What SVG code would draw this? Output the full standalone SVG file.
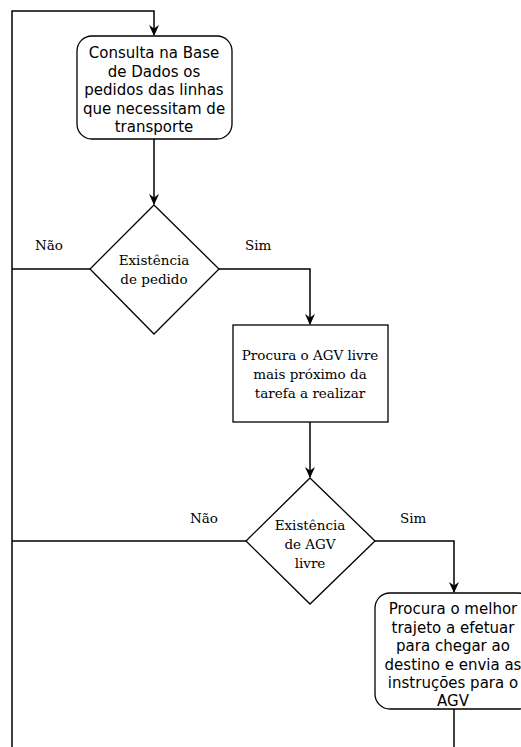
<svg xmlns="http://www.w3.org/2000/svg" width="521" height="747" viewBox="0 0 521 747">
<defs>
<marker id="arr" viewBox="0 0 10 10" refX="9" refY="5" markerWidth="11" markerHeight="10" orient="auto" markerUnits="userSpaceOnUse" preserveAspectRatio="none">
<path d="M0,0 L10,5 L0,10 L3,5 Z" fill="#000"/>
</marker>
<style>
.ln{fill:none;stroke:#000;stroke-width:1.5}
.shp{fill:#fff;stroke:#000;stroke-width:1.3}
.sans{font-family:"DejaVu Sans",Verdana,sans-serif;font-size:15px;fill:#000;text-anchor:middle}
.serif{font-family:Georgia,"DejaVu Serif","Liberation Serif",serif;font-size:13.5px;fill:#000;text-anchor:middle}
.lbl{font-family:Georgia,"DejaVu Serif","Liberation Serif",serif;font-size:13.5px;fill:#000}
</style>
</defs>
<rect width="521" height="747" fill="#fff"/>
<g id="connectors">
<path class="ln" d="M12,747 L12,11 L154,11 L154,35" marker-end="url(#arr)"/>
<path class="ln" d="M154,139 L154,204" marker-end="url(#arr)"/>
<path class="ln" d="M90,269 L12,269"/>
<path class="ln" d="M219,269 L310,269 L310,324" marker-end="url(#arr)"/>
<path class="ln" d="M310,422 L310,477" marker-end="url(#arr)"/>
<path class="ln" d="M246,541 L12,541"/>
<path class="ln" d="M375,541 L454,541 L454,592" marker-end="url(#arr)"/>
<path class="ln" d="M454,709 L454,747"/>
<text class="lbl" x="35" y="250">Não</text>
<text class="lbl" x="245" y="250">Sim</text>
<text class="lbl" x="190" y="523">Não</text>
<text class="lbl" x="400" y="523">Sim</text>
</g>
<g id="n1">
<rect class="shp" x="77" y="36" width="155" height="103" rx="15"/>
<text class="sans" x="154" y="58">Consulta na Base</text>
<text class="sans" x="154" y="76.5">de Dados os</text>
<text class="sans" x="154" y="95">pedidos das linhas</text>
<text class="sans" x="154" y="113.5">que necessitam de</text>
<text class="sans" x="154" y="132">transporte</text>
</g>
<g id="d1">
<polygon class="shp" points="154,205 219,269 154,334 90,269"/>
<text class="serif" x="154" y="265">Existência</text>
<text class="serif" x="154" y="284">de pedido</text>
</g>
<g id="n2">
<rect class="shp" x="233" y="325" width="155" height="97"/>
<text class="serif" x="310" y="360">Procura o AGV livre</text>
<text class="serif" x="310" y="379">mais próximo da</text>
<text class="serif" x="310" y="398">tarefa a realizar</text>
</g>
<g id="d2">
<polygon class="shp" points="310,478 375,541 310,604 246,541"/>
<text class="serif" x="310" y="530">Existência</text>
<text class="serif" x="310" y="549">de AGV</text>
<text class="serif" x="310" y="568">livre</text>
</g>
<g id="n3">
<rect class="shp" x="375" y="593" width="158" height="116" rx="15"/>
<text class="sans" x="453" y="614">Procura o melhor</text>
<text class="sans" x="453" y="632.5">trajeto a efetuar</text>
<text class="sans" x="453" y="651">para chegar ao</text>
<text class="sans" x="453" y="669.5">destino e envia as</text>
<text class="sans" x="453" y="688">instruções para o</text>
<text class="sans" x="453" y="706">AGV</text>
</g>
</svg>
